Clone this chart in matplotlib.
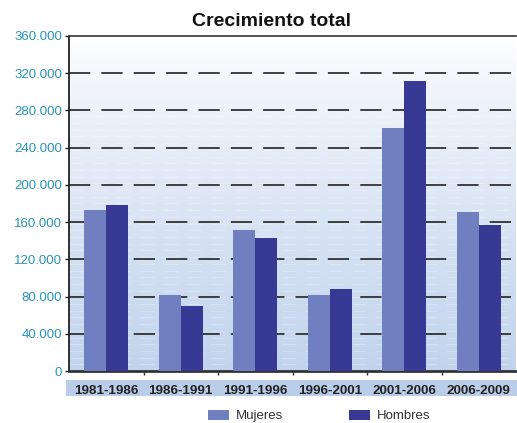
import numpy as np
import matplotlib.pyplot as plt

plt.rcParams['font.family'] = ['Liberation Sans', 'DejaVu Sans']
plt.rcParams['lines.scale_dashes'] = False

periodos = ["1981-1986", "1986-1991", "1991-1996", "1996-2001", "2001-2006", "2006-2009"]
mujeres = [173500, 82000, 152000, 82000, 261000, 171000]
hombres = [178000, 70000, 143000, 88000, 311500, 157000]
yticks = [0, 40000, 80000, 120000, 160000, 200000, 240000, 280000, 320000, 360000]
ylabels = ["0", "40.000", "80.000", "120.000", "160.000", "200.000",
           "240.000", "280.000", "320.000", "360.000"]

fig = plt.figure(figsize=(5.17, 4.23), dpi=100)

# banda de etiquetas (detras de todo)
band = fig.add_axes([66/517, 27/423, 451/517, 16/423], zorder=-1)
band.set_facecolor('#b9cde9')
band.set_xticks([])
band.set_yticks([])
for s in band.spines.values():
    s.set_visible(False)

ax = fig.add_axes([69/517, 52/423, 447/517, 335/423], zorder=1)

# fondo degradado
grad = np.linspace(0, 1, 256).reshape(-1, 1)
top = np.array([1.0, 1.0, 1.0])
bot = np.array([0.76, 0.83, 0.93])
img = top + (bot - top) * grad ** 0.8
ax.imshow(img.reshape(256, 1, 3), extent=[0, 1, 0, 1], transform=ax.transAxes,
          aspect='auto', zorder=0, interpolation='bilinear')
# textura de ondas
for yy in np.arange(0.02, 0.8, 0.02):
    ax.plot([0, 1], [yy, yy], transform=ax.transAxes, color='white',
            lw=0.7, alpha=0.25, dashes=(10, 7), zorder=0.5)

x = np.arange(len(periodos))
w = 0.295
ax.bar(x - w/2, mujeres, w, color='#6f7fbf', label='Mujeres', zorder=3)
ax.bar(x + w/2, hombres, w, color='#383895', label='Hombres', zorder=3)

ax.set_xlim(-0.5, 5.5)
ax.set_ylim(0, 360000)
ax.set_yticks(yticks)
ax.set_yticklabels(ylabels, fontsize=9.5, color='#2a93b8')
ax.tick_params(axis='y', length=3, width=1, color='#222', pad=2)

for yv in yticks[1:-1]:
    ax.axhline(yv, color='#222', lw=1.2, dashes=(15.3, 8), zorder=2)

ax.set_xticks(x)
ax.set_xticklabels(periodos, fontsize=9.7, fontweight='bold', color='#222')
ax.tick_params(axis='x', which='major', length=0, pad=10)
ax.set_xticks(np.arange(0.5, 5, 1), minor=True)
ax.tick_params(axis='x', which='minor', length=3, width=1, color='#333')

ax.spines['right'].set_visible(False)
ax.spines['left'].set_color('#222')
ax.spines['left'].set_linewidth(1.3)
ax.spines['top'].set_color('#333')
ax.spines['top'].set_linewidth(1.2)
ax.spines['bottom'].set_color('#333')
ax.spines['bottom'].set_linewidth(2)

fig.text(272/517, 1 - 21/423, "Crecimiento total", ha='center', va='center',
         fontsize=14, fontweight='bold', color='#111')

ax.legend(loc='center', bbox_to_anchor=(0.56, -0.134), ncol=2, frameon=False,
          fontsize=9.5, handlelength=1.6, handleheight=0.8, columnspacing=5,
          handletextpad=0.5, labelcolor='#333')

fig.savefig("out.png", dpi=100)
